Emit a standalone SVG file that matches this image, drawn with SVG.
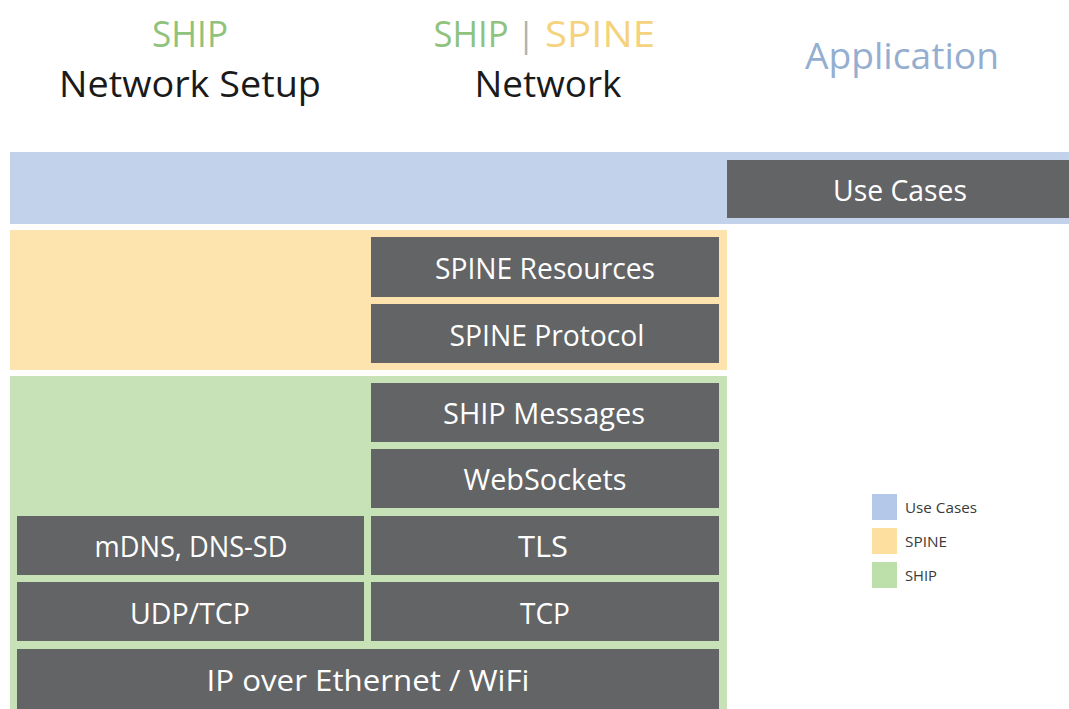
<svg xmlns="http://www.w3.org/2000/svg" width="1069" height="709" viewBox="0 0 1069 709">
<style>
text{font-family:"Open Sans","Noto Sans","Liberation Sans",sans-serif}
.box{fill:#636466}
.lbl{fill:#ffffff;font-size:30px;text-anchor:middle}
.h{font-size:36px;text-anchor:middle}
.leg{font-size:14px;fill:#3a3a3a}
</style>
<rect width="1069" height="709" fill="#ffffff"/>
<g id="headings">
<text class="h" x="190" y="47" fill="#8fc27c" textLength="76" lengthAdjust="spacingAndGlyphs">SHIP</text>
<text class="h" x="190" y="97" fill="#1a1a1a" textLength="262" lengthAdjust="spacingAndGlyphs">Network Setup</text>
<text class="h" x="471" y="47" fill="#8fc27c" textLength="75" lengthAdjust="spacingAndGlyphs">SHIP</text>
<text class="h" x="526" y="47" fill="#b0b0b0" style="font-size:34px">|</text>
<text class="h" x="600" y="47" fill="#f5d27c" textLength="110" lengthAdjust="spacingAndGlyphs">SPINE</text>
<text class="h" x="548" y="97" fill="#1a1a1a" textLength="147" lengthAdjust="spacingAndGlyphs">Network</text>
<text class="h" x="902" y="69" fill="#94aed0" textLength="194" lengthAdjust="spacingAndGlyphs">Application</text>
</g>
<g id="bands">
<rect id="band-usecases" x="10" y="152" width="1059" height="72" fill="#c2d2ea"/>
<rect id="band-spine" x="10" y="230" width="717" height="140" fill="#fde3ae"/>
<rect id="band-ship" x="10" y="376" width="717" height="333" fill="#c6e2b6"/>
</g>
<g id="n-usecases"><rect class="box" x="727" y="160" width="342" height="58"/><text class="lbl" x="900" y="201" textLength="134" lengthAdjust="spacingAndGlyphs">Use Cases</text></g>
<g id="n-spine-res"><rect class="box" x="371" y="237" width="348" height="60"/><text class="lbl" x="545" y="279" textLength="220" lengthAdjust="spacingAndGlyphs">SPINE Resources</text></g>
<g id="n-spine-prot"><rect class="box" x="371" y="304" width="348" height="59"/><text class="lbl" x="547" y="346" textLength="195" lengthAdjust="spacingAndGlyphs">SPINE Protocol</text></g>
<g id="n-ship-msg"><rect class="box" x="371" y="383" width="348" height="59"/><text class="lbl" x="544" y="424" textLength="202" lengthAdjust="spacingAndGlyphs">SHIP Messages</text></g>
<g id="n-websockets"><rect class="box" x="371" y="449" width="348" height="59"/><text class="lbl" x="545" y="490" textLength="163" lengthAdjust="spacingAndGlyphs">WebSockets</text></g>
<g id="n-mdns"><rect class="box" x="17" y="516" width="347" height="59"/><text class="lbl" x="191" y="557" textLength="193" lengthAdjust="spacingAndGlyphs">mDNS, DNS-SD</text></g>
<g id="n-tls"><rect class="box" x="371" y="516" width="348" height="59"/><text class="lbl" x="543" y="557" textLength="50" lengthAdjust="spacingAndGlyphs">TLS</text></g>
<g id="n-udptcp"><rect class="box" x="17" y="582" width="347" height="59"/><text class="lbl" x="190" y="624" textLength="120" lengthAdjust="spacingAndGlyphs">UDP/TCP</text></g>
<g id="n-tcp"><rect class="box" x="371" y="582" width="348" height="59"/><text class="lbl" x="545" y="624" textLength="50" lengthAdjust="spacingAndGlyphs">TCP</text></g>
<g id="n-ip"><rect class="box" x="17" y="649" width="702" height="60"/><text class="lbl" x="368" y="691" textLength="323" lengthAdjust="spacingAndGlyphs">IP over Ethernet / WiFi</text></g>
<g id="legend">
<rect x="872" y="494" width="25" height="26" fill="#b4c8ea"/>
<text class="leg" x="905" y="513" textLength="72" lengthAdjust="spacingAndGlyphs">Use Cases</text>
<rect x="872" y="528" width="25" height="26" fill="#fde0a0"/>
<text class="leg" x="905" y="547" textLength="42" lengthAdjust="spacingAndGlyphs">SPINE</text>
<rect x="872" y="562" width="25" height="26" fill="#bde0aa"/>
<text class="leg" x="905" y="581" textLength="32" lengthAdjust="spacingAndGlyphs">SHIP</text>
</g>
<g id="connectors"/>
</svg>
